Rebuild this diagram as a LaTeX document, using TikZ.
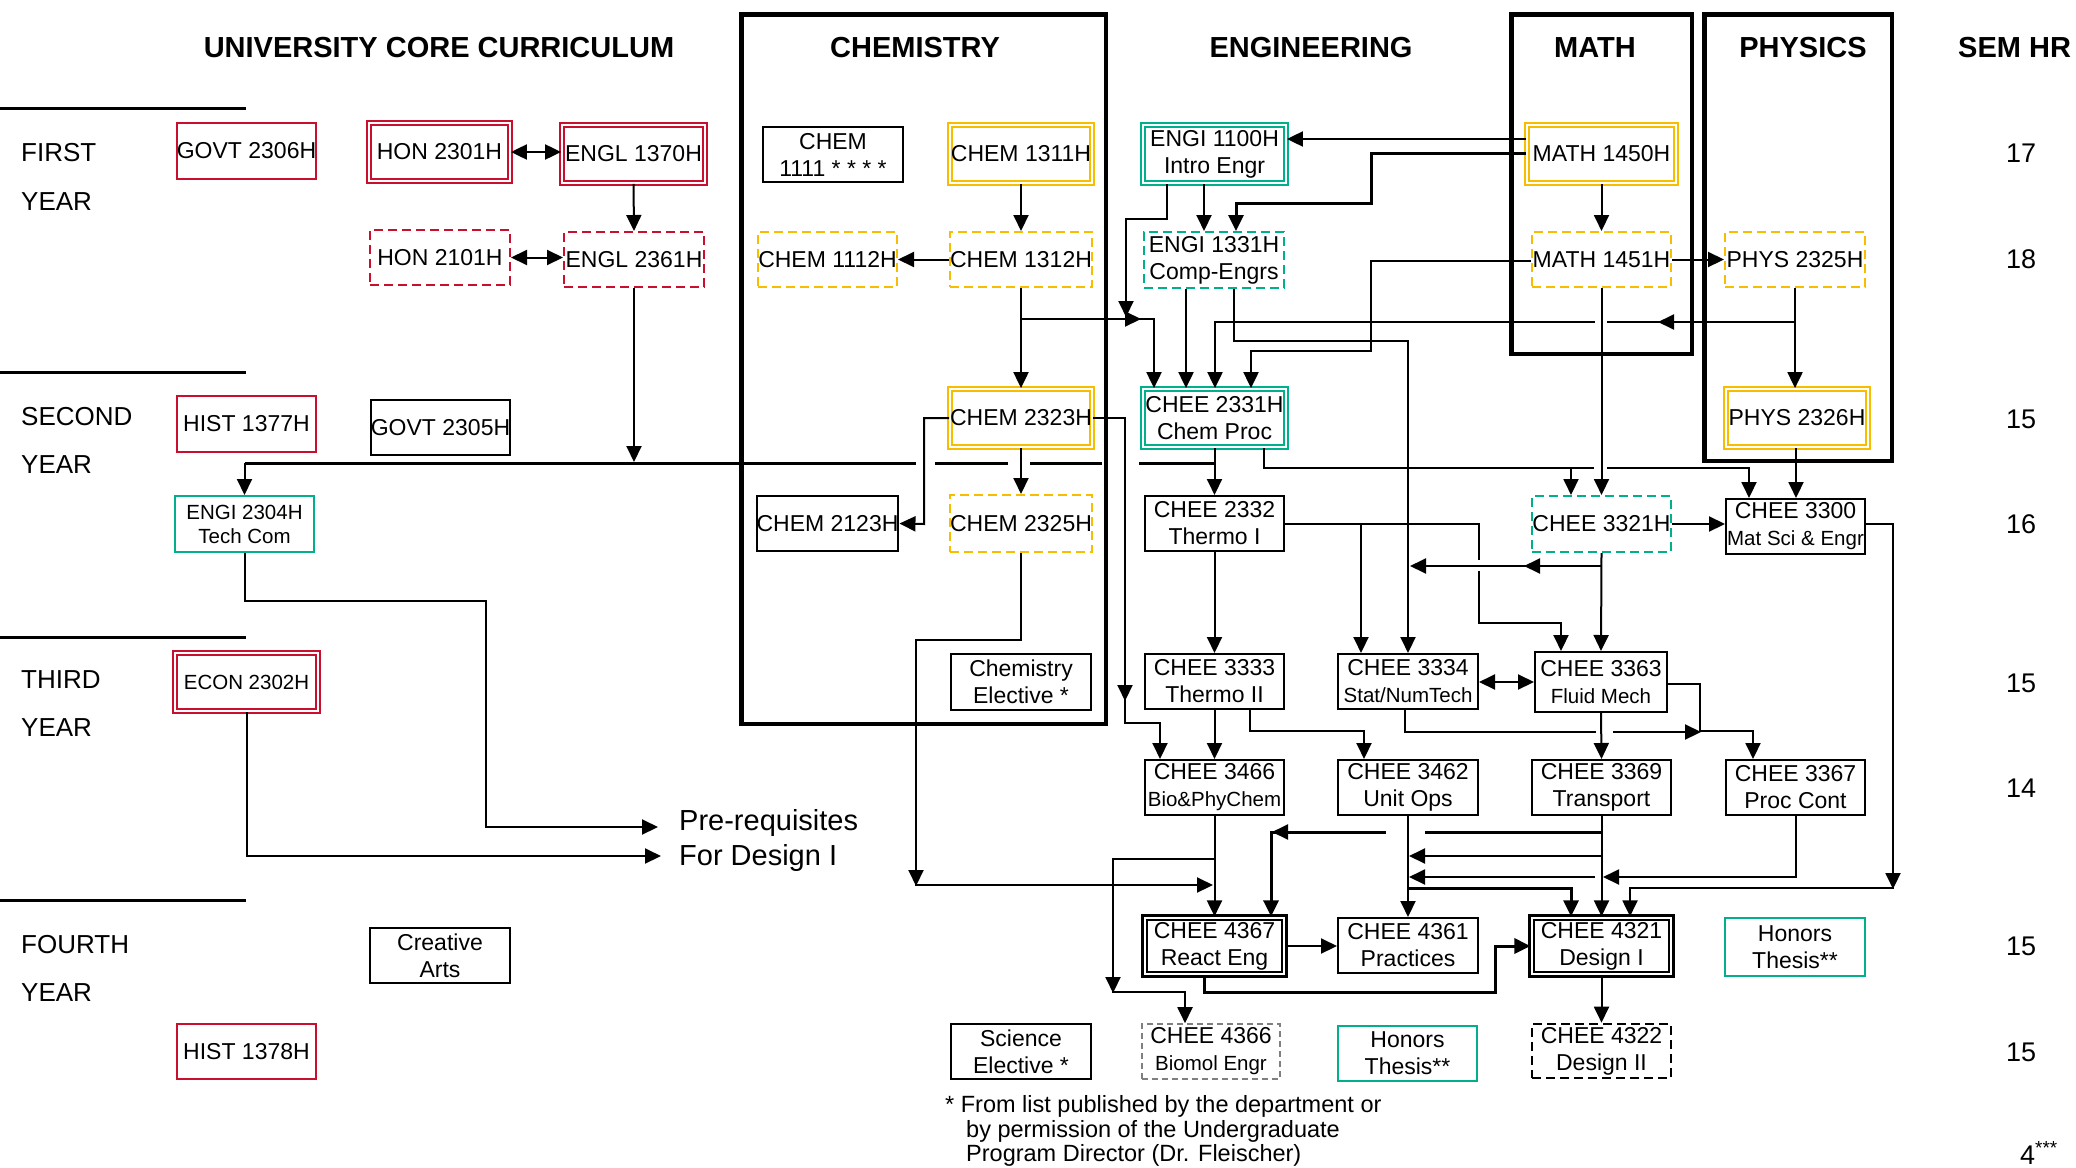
\documentclass[tikz,border=0pt]{standalone}
\usepackage{fontspec}
\setmainfont{Liberation Sans}
\usetikzlibrary{arrows.meta}
\definecolor{ured}{HTML}{C8102E}
\definecolor{ugold}{HTML}{F7BE00}
\definecolor{ugreen}{HTML}{00B08C}
\definecolor{ugray}{HTML}{7F7F7F}
\newcommand{\crsf}{\fontsize{23}{27}\selectfont}
\newcommand{\smf}{\fontsize{20.5}{24}\selectfont}
\newcommand{\hdf}{\fontsize{29}{34}\selectfont\bfseries}
\newcommand{\yrf}{\fontsize{26}{30}\selectfont}
\newcommand{\semf}{\fontsize{27}{30}\selectfont}
\newcommand{\pref}{\fontsize{29}{34}\selectfont}
\tikzset{
  crs/.style={rectangle, draw, inner sep=0pt, align=center, font=\crsf, line width=2pt},
  sb/.style 2 args={minimum width=#1pt-2pt, minimum height=#2pt-2pt},
  db/.style 2 args={double=white, double distance=2.4pt, line width=1.8pt, minimum width=#1pt-6pt, minimum height=#2pt-6pt},
  dbk/.style 2 args={draw=black, double=white, double distance=2.2pt, line width=2.6pt, minimum width=#1pt-7.4pt, minimum height=#2pt-7.4pt},
  dsh/.style={dash pattern=on 9pt off 5pt},
  dept/.style={draw, line width=4.5pt, inner sep=0pt},
  hdr/.style={font=\hdf, inner sep=0pt},
  yr/.style={font=\yrf, inner sep=0pt, anchor=west},
  sem/.style={font=\semf, inner sep=0pt},
  conn/.style={line width=2pt},
  thk/.style={line width=3pt},
  arr/.style={conn, ->},
  darr/.style={conn, <->},
  divl/.style={line width=3pt},
  footf/.style={font=\fontsize{23.5}{28}\selectfont, anchor=base west, inner sep=0pt}
}
\begin{document}
\begin{tikzpicture}[x=1pt, y=-1pt, line join=miter, >={Triangle[length=16pt,width=15pt]}]
\useasboundingbox (0,0) rectangle (2076,1167);
\fill[white] (0,0) rectangle (2076,1167);
\clip (0,0) rectangle (2076,1167);

% department frames
\node[dept, minimum width=364.5pt, minimum height=709.5pt] (chembox) at (923.5,369) {};
\node[dept, minimum width=180.5pt, minimum height=339.5pt] (mathbox) at (1601.5,184) {};
\node[dept, minimum width=187.5pt, minimum height=446.5pt] (physbox) at (1798,237.5) {};

% headers
\node[hdr] (hcore) at (439,48) {UNIVERSITY CORE CURRICULUM};
\node[hdr] (hchem) at (915,48) {CHEMISTRY};
\node[hdr] (heng) at (1311,48) {ENGINEERING};
\node[hdr] (hmath) at (1595,48) {MATH};
\node[hdr] (hphys) at (1803,48) {PHYSICS};
\node[hdr, anchor=west] (hsem) at (1958,48) {SEM HR};

% year dividers and labels
\draw[divl] (0,108) -- (246,108);
\draw[divl] (0,372) -- (246,372);
\draw[divl] (0,637) -- (246,637);
\draw[divl] (0,900) -- (246,900);
\node[yr] (y1a) at (21,153) {FIRST};
\node[yr] (y1b) at (21,202) {YEAR};
\node[yr] (y2a) at (21,417) {SECOND};
\node[yr] (y2b) at (21,465) {YEAR};
\node[yr] (y3a) at (21,680) {THIRD};
\node[yr] (y3b) at (21,728) {YEAR};
\node[yr] (y4a) at (21,945) {FOURTH};
\node[yr] (y4b) at (21,993) {YEAR};

% semester hours
\node[sem] (s1) at (2021,153) {17};
\node[sem] (s2) at (2021,259) {18};
\node[sem] (s3) at (2021,419) {15};
\node[sem] (s4) at (2021,524) {16};
\node[sem] (s5) at (2021,683) {15};
\node[sem] (s6) at (2021,788) {14};
\node[sem] (s7) at (2021,946) {15};
\node[sem] (s8) at (2021,1052) {15};
\node[sem, anchor=base west] (s9) at (2020,1164) {4\textsuperscript{***}};

% core curriculum
\node[crs, sb={141}{58}, draw=ured] (govt2306) at (246.5,151) {GOVT 2306H};
\node[crs, db={147}{64}, draw=ured] (hon2301) at (439.5,152) {HON 2301H};
\node[crs, db={149}{64}, draw=ured] (engl1370) at (633.5,154) {ENGL 1370H};
\node[crs, sb={142}{57}, draw=ured, dsh] (hon2101) at (440,257.5) {HON 2101H};
\node[crs, sb={142}{57}, draw=ured, dsh] (engl2361) at (634,259.5) {ENGL 2361H};
\node[crs, sb={141}{58}, draw=ured] (hist1377) at (246.5,424) {HIST 1377H};
\node[crs, sb={141}{57}] (govt2305) at (440.5,427.5) {GOVT 2305H};
\node[crs, sb={141}{58}, draw=ugreen, font=\smf] (engi2304) at (244.5,524) {ENGI 2304H\\Tech Com};
\node[crs, db={149}{64}, draw=ured, font=\smf] (econ2302) at (246.5,682) {ECON 2302H};
\node[crs, sb={142}{57}] (creative) at (440,955.5) {Creative\\Arts};
\node[crs, sb={141}{57}, draw=ured] (hist1378) at (246.5,1051.5) {HIST 1378H};

% chemistry
\node[crs, sb={142}{57}] (chem1111) at (833,154.5) {CHEM\\1111 * * * *};
\node[crs, db={148}{64}, draw=ugold] (chem1311) at (1021,154) {CHEM 1311H};
\node[crs, sb={141}{57}, draw=ugold, dsh] (chem1112) at (827.5,259.5) {CHEM 1112H};
\node[crs, sb={142}{57}, draw=ugold, dsh] (chem1312) at (1021,259.5) {CHEM 1312H};
\node[crs, db={148}{64}, draw=ugold] (chem2323) at (1021,418) {CHEM 2323H};
\node[crs, sb={141}{57}] (chem2123) at (827.5,523.5) {CHEM 2123H};
\node[crs, sb={141}{59}, draw=ugold, dsh] (chem2325) at (1021,523.5) {CHEM 2325H};
\node[crs, sb={142}{58}] (chemelec) at (1021,682) {Chemistry\\Elective *};
\node[crs, sb={142}{57}] (scielec) at (1021,1051.5) {Science\\Elective *};

% engineering
\node[crs, db={149}{64}, draw=ugreen] (engi1100) at (1214.5,154) {ENGI 1100H\\Intro Engr};
\node[crs, sb={142}{58}, draw=ugreen, dsh] (engi1331) at (1214,260) {ENGI 1331H\\Comp-Engrs};
\node[crs, db={149}{64}, draw=ugreen] (chee2331) at (1214.5,418) {CHEE 2331H\\Chem Proc};
\node[crs, sb={141}{57}] (chee2332) at (1214.5,523.5) {CHEE 2332\\Thermo I};
\node[crs, sb={141}{57}] (chee3333) at (1214.5,681.5) {CHEE 3333\\Thermo II};
\node[crs, sb={142}{57}] (chee3334) at (1408,681.5) {CHEE 3334\\{\smf Stat/NumTech}};
\node[crs, sb={134}{62}] (chee3363) at (1601,682) {CHEE 3363\\{\smf Fluid Mech}};
\node[crs, sb={141}{57}] (chee3466) at (1214.5,787.5) {CHEE 3466\\{\smf Bio\&PhyChem}};
\node[crs, sb={142}{57}] (chee3462) at (1408,787.5) {CHEE 3462\\Unit Ops};
\node[crs, sb={141}{57}] (chee3369) at (1601.5,787.5) {CHEE 3369\\Transport};
\node[crs, sb={141}{57}] (chee3367) at (1795.5,787.5) {CHEE 3367\\Proc Cont};
\node[crs, dbk={147}{64}] (chee4367) at (1214.5,946) {CHEE 4367\\React Eng};
\node[crs, sb={142}{57}] (chee4361) at (1408,945.5) {CHEE 4361\\Practices};
\node[crs, dbk={147}{64}] (chee4321) at (1601.5,946) {CHEE 4321\\Design I};
\node[crs, sb={142}{60}, draw=ugreen] (hon2) at (1795,947) {Honors\\Thesis**};
\node[crs, sb={140}{57}, draw=ugray, dash pattern=on 6pt off 4pt, line width=1.6pt] (chee4366) at (1211,1051.5) {CHEE 4366\\{\smf Biomol Engr}};
\node[crs, sb={141}{57}, draw=ugreen] (hon1) at (1407.5,1053) {Honors\\Thesis**};
\node[crs, sb={141}{56}, dsh, line width=2.6pt] (chee4322) at (1601.5,1051) {CHEE 4322\\Design II};

% math & physics
\node[crs, db={155}{64}, draw=ugold] (math1450) at (1601.5,154) {MATH 1450H};
\node[crs, sb={141}{57}, draw=ugold, dsh] (math1451) at (1601.5,259.5) {MATH 1451H};
\node[crs, sb={141}{58}, draw=ugreen, dsh] (chee3321) at (1601.5,524) {CHEE 3321H};
\node[crs, sb={142}{57}, draw=ugold, dsh] (phys2325) at (1795,259.5) {PHYS 2325H};
\node[crs, db={148}{64}, draw=ugold] (phys2326) at (1797,418) {PHYS 2326H};
\node[crs, sb={141}{57}] (chee3300) at (1795.5,526.5) {CHEE 3300\\{\smf Mat Sci \& Engr}};

% pre-requisite labels and footnote
\node[font=\pref, anchor=west, inner sep=0pt] (pre1) at (679,823) {Pre-requisites};
\node[font=\pref, anchor=west, inner sep=0pt] (pre2) at (679,858) {For Design I};
\node[footf] (foot1) at (945,1112) {* From list published by the department or};
\node[footf] (foot2) at (966,1137) {by permission of the Undergraduate};
\node[footf] (foot3) at (966,1161.5) {Program Director (Dr. Fleischer)};

% ---------- connectors ----------
% core
\draw[darr] (hon2301.east) -- (hon2301.east -| engl1370.west);
\draw[darr] (hon2101.east) -- (hon2101.east -| engl2361.west);
\draw[arr] (engl1370.south) -- (engl2361.north);
\coordinate (j1) at (244.5,463);
\draw[arr] (engl2361.south) -- (engl2361.south |- 0,462);
\draw[thk] (j1) -- (916,463) (935,463) -- (1008,463) (1030,463) -- (1102,463) (1139,463) -- (chee2331.south |- 0,463);
\draw[arr] (j1) -- (engi2304.north);
\draw[arr] (engi2304.south) |- (486,601) |- (658,827);
\draw[arr] (econ2302.south) |- (661,856);

% chemistry
\draw[arr] (chem1311.south) -- (chem1312.north);
\draw[arr] (chem1312.west) -- (chem1112.east);
\draw[arr] (chem1312.south) -- (chem2323.north);
\draw[arr] (chem1312.south |- 0,319) -| (chee2331.north -| 1154,0);
\draw[arr] (1100,319) -- (1141,319);
\draw[arr] (chem2323.west) -| (924,524) -- (chem2123.east);
\draw[arr] (chem2323.south) -- (chem2325.north);
\draw[arr] (chem2323.east) -| (1125,723) -| (chee3466.north -| 1160,0);
\draw[arr] (1125,670) -- (1125,701);
\draw[conn] (chem2325.south) |- (916,640) -- (916,885) -- (1200,885);
\draw[arr] (916,850) -- (916,886);
\draw[arr] (1180,885) -- (1213,885);

% engineering first year
\draw[arr] (engi1100.south -| 1167,0) |- (1126,219) -- (1126,317);
\draw[arr] (engi1100.south -| 1204,0) -- (engi1331.north -| 1204,0);
\draw[arr] (math1450.west |- 0,139) -- (engi1100.east |- 0,139);
\draw[arr, thk] (math1450.west |- 0,153) -| (1371,203) -| (engi1331.north -| 1236,0);
\draw[arr] (math1450.south) -- (math1451.north);
\draw[arr] (math1451.east) -- (phys2325.west);
\draw[arr] (math1451.west |- 0,261) -| (1371,351) -| (chee2331.north -| 1251,0);
\draw[arr] (engi1331.south -| 1186,0) -- (chee2331.north -| 1186,0);
\draw[arr] (engi1331.south -| 1234,0) |- (1408,341) -- (chee3334.north);
\draw[arr] (phys2325.south) -- (phys2325.south |- phys2326.north);
\draw[conn] (phys2325.south |- 0,322) -- (1607,322);
\draw[arr] (1595,322) -| (chee2331.north -| 1215,0);
\draw[arr] (1690,322) -- (1658,322);

% second year
\draw[arr] (chee2331.south) -- (chee2332.north);
\draw[conn] (chee2331.south -| 1264,0) |- (1594,468);
\draw[arr] (1607,468) -| (chee3300.north -| 1749,0);
\draw[arr] (1571,468) -- (chee3321.north -| 1571,0);
\draw[arr] (math1451.south) -- (chee3321.north);
\draw[arr] (phys2326.south -| 1796,0) -- (chee3300.north -| 1796,0);
\draw[arr] (chee3321.east) -- (chee3321.east -| chee3300.west);
\draw[arr] (chee3300.east |- 0,524) -| (1893,888) -| (chee4321.north -| 1630,0);
\draw[arr] (1893,860) -- (1893,889);
\draw[arr] (chee3321.south) -- (chee3363.north);
\draw[arr] (chee3321.south |- 0,566) -- (1410,566);
\draw[arr] (1560,566) -- (1524,566);
\draw[conn] (chee2332.east) -- (1479,523.5) -- (1479,560);
\draw[arr] (1479,571) |- (1561,623) -- (chee3363.north -| 1561,0);
\draw[arr] (1361,523.5) -- (chee3334.north -| 1361,0);
\draw[arr] (chee2332.south) -- (chee3333.north);

% third year
\draw[arr] (chee3333.south) -- (chee3466.north);
\draw[arr] (chee3333.south -| 1250,0) |- (1364,731) -- (chee3462.north -| 1364,0);
\draw[darr] (chee3334.east |- 0,682) -- (chee3363.west |- 0,682);
\draw[conn] (chee3334.south -| 1405,0) |- (1596,732);
\draw[arr] (1613,732) -- (1701,732);
\draw[arr] (chee3363.east |- 0,684) -| (1700,731) -| (chee3367.north -| 1753,0);
\draw[arr] (chee3363.south) -- (chee3369.north);

% fourth year
\draw[arr] (chee3466.south) -- (chee4367.north);
\draw[arr] (chee3466.south |- 0,859) -| (1113,992) -| (chee4366.north -| 1185,0);
\draw[arr] (1113,960) -- (1113,993);
\draw[arr] (chee3462.south) -- (chee4361.north);
\draw[arr] (chee3369.south) -- (chee4321.north);
\draw[thk] (chee3369.south |- 0,832) -- (1425,832);
\draw[arr, thk] (1386,832) -| (chee4367.north -| 1271,0);
\draw[arr] (1310,832) -- (1272,832);
\draw[arr] (chee3369.south |- 0,856) -- (1409,856);
\draw[conn] (chee3367.south) |- (1610,877);
\draw[arr] (1640,877) -- (1603,877);
\draw[arr] (1595,877) -- (1409,877);
\draw[arr, thk] (chee3462.south |- 0,888) -| (chee4321.north -| 1571,0);
\draw[arr] (chee4367.east) -- (chee4367.east -| chee4361.west);
\draw[arr, thk] (chee4367.south -| 1204,0) |- (1495,992) |- (chee4321.west);
\draw[arr] (chee4321.south) -- (chee4322.north);
\end{tikzpicture}
\end{document}
